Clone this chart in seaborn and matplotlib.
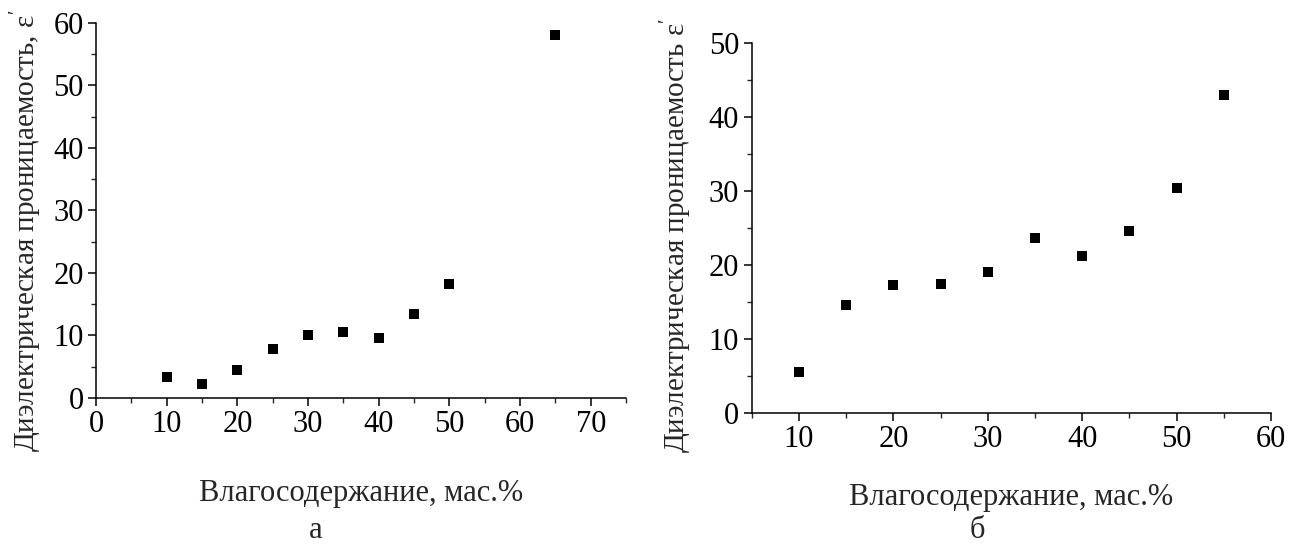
import numpy as np
import pandas as pd
import seaborn as sns
import matplotlib.pyplot as plt
from matplotlib.ticker import MultipleLocator

# panel a
moist_a = [10, 15, 20, 25, 30, 35, 40, 45, 50, 65]
eps_a = [3.4, 2.2, 4.4, 7.9, 10.0, 10.5, 9.6, 13.5, 18.2, 58.0]
# panel b
moist_b = [10, 15, 20, 25, 30, 35, 40, 45, 50, 55]
eps_b = [5.5, 14.5, 17.3, 17.4, 19.0, 23.6, 21.2, 24.6, 30.3, 42.9]

xlabel = "Влагосодержание, мас.%"
ylabel_a = "Диэлектрическая проницаемость, ε$^{\\prime}$"
ylabel_b = "Диэлектрическая проницаемость ε$^{\\prime}$"

sns.set_style("ticks")
plt.rcParams['font.family'] = ['Liberation Serif', 'DejaVu Serif']
plt.rcParams['mathtext.fontset'] = 'custom'
plt.rcParams['mathtext.rm'] = 'Liberation Serif'

fs = 22
fig = plt.figure(figsize=(13.01, 5.46), dpi=100)
ax1 = fig.add_axes([0.0738, 0.2711, 0.4074, 0.6868])
ax2 = fig.add_axes([0.5778, 0.2441, 0.3991, 0.6777])

df_a = pd.DataFrame({'x': moist_a, 'y': eps_a})
df_b = pd.DataFrame({'x': moist_b, 'y': eps_b})

for ax, df, xl, yl in [(ax1, df_a, (0, 75), (0, 60)), (ax2, df_b, (5, 60), (0, 50))]:
    sns.scatterplot(data=df, x='x', y='y', ax=ax, marker='s', s=42, color='black',
                    edgecolor='black', linewidth=0)
    ax.set_xlim(*xl)
    ax.set_ylim(*yl)
    ax.xaxis.set_major_locator(MultipleLocator(10))
    ax.xaxis.set_minor_locator(MultipleLocator(5))
    ax.yaxis.set_major_locator(MultipleLocator(10))
    ax.yaxis.set_minor_locator(MultipleLocator(5))
    ax.tick_params(which='major', direction='out', length=6, width=1.1, labelsize=fs, colors='black', pad=3)
    ax.tick_params(which='minor', direction='out', length=3.5, width=1.0)
    for sp in ['left', 'bottom']:
        ax.spines[sp].set_linewidth(1.1)
        ax.spines[sp].set_color('black')
    sns.despine(ax=ax)

ax2.set_xticks([10, 20, 30, 40, 50, 60])

ax1.set_xlabel(xlabel, fontsize=fs)
ax1.set_ylabel(ylabel_a, fontsize=21)
ax2.set_xlabel(xlabel, fontsize=fs)
ax2.set_ylabel(ylabel_b, fontsize=21)
ax1.xaxis.set_label_coords(0.5, -0.215)
ax1.yaxis.set_label_coords(-0.10, 0.445)
ax2.xaxis.set_label_coords(0.5, -0.19)
ax2.yaxis.set_label_coords(-0.114, 0.478)

fig.text(316 / 1301, 1 - 530 / 546, "а", fontsize=fs, ha='center', va='center')
fig.text(977 / 1301, 1 - 530 / 546, "б", fontsize=fs, ha='center', va='center')

fig.savefig("out.png", dpi=100)
